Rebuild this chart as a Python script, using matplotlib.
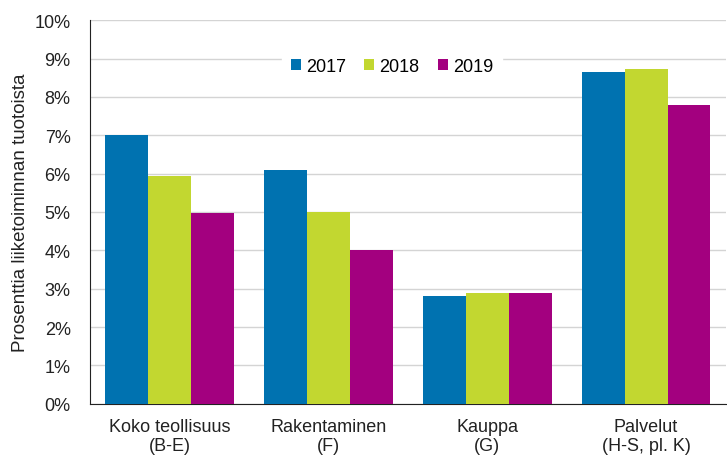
import matplotlib
matplotlib.use('Agg')
import matplotlib.pyplot as plt
import numpy as np

plt.rcParams['font.family'] = ['Liberation Sans', 'DejaVu Sans']

categories = ['Koko teollisuus\n(B-E)', 'Rakentaminen\n(F)', 'Kauppa\n(G)', 'Palvelut\n(H-S, pl. K)']
years = ['2017', '2018', '2019']
v2017 = [7.0, 6.1, 2.8, 8.65]
v2018 = [5.95, 5.0, 2.9, 8.72]
v2019 = [4.97, 4.0, 2.9, 7.8]
colors = ['#0072b0', '#c2d730', '#a3007f']

fig = plt.figure(figsize=(7.27, 4.6), dpi=100)
ax = fig.add_axes([0.124, 0.12, 0.874, 0.834])

x = np.arange(len(categories))
w = 0.27
for i, (vals, lab) in enumerate(zip([v2017, v2018, v2019], years)):
    ax.bar(x + (i - 1) * w, vals, w, color=colors[i], label=lab, zorder=3)

ax.set_xlim(-0.5, 3.5)
ax.set_ylim(0, 10)
ax.set_yticks(range(0, 11))
ax.set_yticklabels([f'{t}%' for t in range(0, 11)], fontsize=13)
ax.set_xticks(x)
ax.set_xticklabels(categories, fontsize=13, linespacing=1.15)
ax.tick_params(axis='y', length=0, pad=14, colors='#222222')
ax.tick_params(axis='x', length=0, pad=10, colors='#222222')
ax.set_ylabel('Prosenttia liiketoiminnan tuotoista', fontsize=13.5, color='#222222', labelpad=4)
ax.yaxis.grid(True, color='#d4d4d4', linewidth=1, zorder=0)
ax.set_axisbelow(True)
for s in ['top', 'right']:
    ax.spines[s].set_visible(False)
ax.spines['left'].set_color('#222222')
ax.spines['bottom'].set_color('#222222')

leg = ax.legend(loc='center', bbox_to_anchor=(0.475, 0.88), ncol=3, frameon=True,
                fontsize=13, handlelength=0.55, handleheight=0.55, handletextpad=0.3,
                columnspacing=1.0, borderpad=0.5)
leg.get_frame().set_edgecolor('white')
leg.get_frame().set_facecolor('white')
leg.get_frame().set_alpha(1)

fig.savefig('out.png', dpi=100)
